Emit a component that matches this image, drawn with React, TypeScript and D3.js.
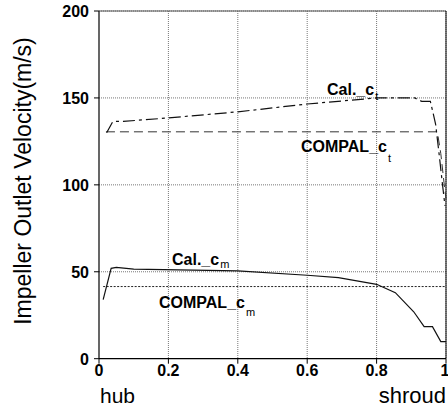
import React from "react";
import * as d3 from "d3";

const xTicks = [0, 0.2, 0.4, 0.6, 0.8, 1];
const xTickLabels = ["0", "0.2", "0.4", "0.6", "0.8", "1"];
const yTicks = [0, 50, 100, 150, 200];

const calCtX = [0.022, 0.04, 0.07, 0.2, 0.4, 0.6, 0.8, 0.91, 0.93, 0.955, 0.97, 0.98, 0.99, 0.997];
const calCtY = [130, 136.5, 136.5, 138.5, 142, 146.5, 150, 150, 148, 148, 135, 118, 100, 88];

const compalCtX = [0.02, 0.5, 0.975, 0.985, 0.995, 1.0];
const compalCtY = [130.5, 130.5, 130.5, 118, 100, 92];

const calCmX = [0.012, 0.035, 0.05, 0.1, 0.4, 0.6, 0.69, 0.8, 0.854, 0.907, 0.937, 0.961, 0.985, 1.0];
const calCmY = [34, 52, 52.5, 51.5, 50.5, 48, 46.6, 42.8, 38, 27, 18.4, 18.4, 9.8, 9.8];

const compalCmX = [0.012, 1.0];
const compalCmY = [41.5, 41.5];

const W = 448, H = 414;
const L = 99, R = 446, T = 11, B = 358.7;

export default function App() {
  const x = d3.scaleLinear().domain([0, 1]).range([L, R]);
  const y = d3.scaleLinear().domain([0, 200]).range([B, T]);
  const line = d3.line<[number, number]>().x(d => x(d[0])).y(d => y(d[1]));
  const pts = (xs: number[], ys: number[]) => xs.map((v, i) => [v, ys[i]] as [number, number]);
  const font = "Arial, 'Liberation Sans', sans-serif";
  return (
    <svg width={W} height={H} style={{ position: "absolute", left: 0, top: 0, background: "#fff" }}>
      {/* grid */}
      {xTicks.slice(1).map(t => (
        <line key={"gx" + t} x1={x(t)} x2={x(t)} y1={T} y2={B} stroke="#777" strokeWidth={1} strokeDasharray="1,1" />
      ))}
      {yTicks.slice(1).map(t => (
        <line key={"gy" + t} x1={L} x2={R} y1={y(t)} y2={y(t)} stroke="#777" strokeWidth={1} strokeDasharray="1,1" />
      ))}
      {/* frame */}
      <line x1={L} x2={L} y1={T} y2={B} stroke="#000" strokeWidth={1.2} />
      <line x1={L} x2={R} y1={B} y2={B} stroke="#000" strokeWidth={1.2} />
      <line x1={L} x2={R} y1={T} y2={T} stroke="#555" strokeWidth={1} />
      <line x1={R} x2={R} y1={T} y2={B} stroke="#000" strokeWidth={1} />
      {/* ticks */}
      {yTicks.map(t => (
        <g key={"ty" + t}>
          <line x1={L - 5} x2={L} y1={y(t)} y2={y(t)} stroke="#000" strokeWidth={1} />
          <text x={L - 10} y={y(t) + 6} textAnchor="end" fontFamily={font} fontWeight="bold" fontSize={16}>{t}</text>
        </g>
      ))}
      {xTicks.map((t, i) => (
        <g key={"tx" + t}>
          <line x1={x(t)} x2={x(t)} y1={B} y2={B + 5} stroke="#000" strokeWidth={1} />
          <text x={x(t) + (i === 5 ? -1 : 0)} y={B + 17} textAnchor="middle" fontFamily={font} fontWeight="bold" fontSize={16}>{xTickLabels[i]}</text>
        </g>
      ))}
      <text x={100} y={403} fontFamily={font} fontSize={21}>hub</text>
      <text x={446} y={403} textAnchor="end" fontFamily={font} fontSize={22}>shroud</text>
      <text transform={`translate(31,${181}) rotate(-90)`} textAnchor="middle" fontFamily={font} fontSize={23}>Impeller Outlet Velocity(m/s)</text>
      {/* series */}
      <path d={line(pts(compalCmX, compalCmY)) || ""} fill="none" stroke="#222" strokeWidth={1} strokeDasharray="2,1.5" />
      <path d={line(pts(compalCtX, compalCtY)) || ""} fill="none" stroke="#333" strokeWidth={1} strokeDasharray="9,5" />
      <path d={line(pts(calCtX, calCtY)) || ""} fill="none" stroke="#111" strokeWidth={1.2} strokeDasharray="12,4,3,4" />
      <path d={line(pts(calCmX, calCmY)) || ""} fill="none" stroke="#111" strokeWidth={1.2} />
      {/* labels */}
      <text x={327} y={95} fontFamily={font} fontWeight="bold" fontSize={16}>Cal._c<tspan dx={1} dy={5} fontSize={11} fontWeight="normal">t</tspan></text>
      <text x={301} y={152} fontFamily={font} fontWeight="bold" fontSize={16}>COMPAL_c<tspan dx={1} dy={10} fontSize={11} fontWeight="normal">t</tspan></text>
      <text x={172} y={265} fontFamily={font} fontWeight="bold" fontSize={16}>Cal._c<tspan dx={1} dy={3} fontSize={11} fontWeight="normal">m</tspan></text>
      <text x={159} y={308} fontFamily={font} fontWeight="bold" fontSize={16}>COMPAL_c<tspan dx={1} dy={8} fontSize={11} fontWeight="normal">m</tspan></text>
    </svg>
  );
}
